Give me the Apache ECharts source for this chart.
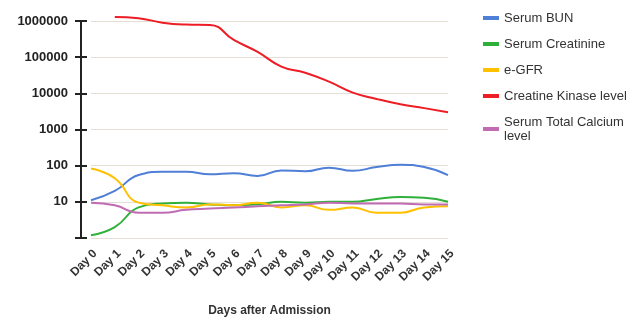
<!DOCTYPE html>
<html><head><meta charset="utf-8">
<script src="https://cdn.jsdelivr.net/npm/echarts@6/dist/echarts.min.js"></script>
<style>html,body{margin:0;padding:0;background:#fff}#c{width:644px;height:322px}</style>
</head><body><div id="c"></div>
<script>
const days = ['Day 0','Day 1','Day 2','Day 3','Day 4','Day 5','Day 6','Day 7','Day 8','Day 9','Day 10','Day 11','Day 12','Day 13','Day 14','Day 15'];
const serumBUN = [11, 20, 55, 68, 68, 58, 62, 52, 74, 70, 88, 72, 92, 106, 92, 55];
const serumCreatinine = [1.2, 2, 7, 9, 9.5, 8.5, 8, 8.5, 10, 9.5, 10, 10, 12, 13.5, 13, 10];
const eGFR = [84, 45, 9.5, 8, 7, 8.5, 8, 9.5, 7, 8, 6, 7, 5, 5, 7, 7.5];
const creatineKinase = [null, 1300000, 1200000, 900000, 800000, 780000, 300000, 140000, 55000, 37000, 21000, 10500, 7000, 5000, 3900, 3000];
const serumCalcium = [9.5, 8, 5, 5, 6, 6.5, 7, 7.5, 8, 8.5, 9.5, 9, 9, 9, 8.5, 8.5];
const yTicks = [10, 100, 1000, 10000, 100000, 1000000];

const names = ['Serum BUN','Serum Creatinine','e-GFR','Creatine Kinase level','Serum Total Calcium level'];
const colors = ['#4f7fd6','#2fb03a','#ffc000','#ee1c24','#c06cb4'];
const datas = [serumBUN, serumCreatinine, eGFR, creatineKinase, serumCalcium];

const chart = echarts.init(document.getElementById('c'), null, {renderer:'canvas'});
const font = 'Liberation Sans, Arial, sans-serif';
chart.setOption({
  animation: false,
  textStyle: {fontFamily: font},
  grid: {left: 91, right: 196, top: 21, height: 220},
  legend: {
    orient: 'vertical', left: 478, top: 6, itemGap: 12,
    itemWidth: 16, itemHeight: 4, icon: 'rect',
    textStyle: {fontSize: 13, color: '#333', fontFamily: font, lineHeight: 14},
    formatter: n => n === 'Serum Total Calcium level' ? 'Serum Total Calcium\nlevel' : n,
    data: names
  },
  xAxis: {
    type: 'category', data: days, boundaryGap: false,
    axisLine: {show: false}, axisTick: {show: false},
    axisLabel: {rotate: 45, fontSize: 12, color: '#333', fontWeight: 'bold', margin: 18, interval: 0,
      padding: [0, -6, 0, 0]},
    name: 'Days after Admission', nameLocation: 'middle', nameGap: 67,
    nameTextStyle: {fontSize: 12, fontWeight: 'bold', color: '#333'}
  },
  yAxis: [{
    type: 'log', logBase: 10, min: 1, max: 1000000, offset: 10,
    axisLine: {show: true, lineStyle: {color: '#222', width: 2}},
    axisTick: {show: true, length: 6, lineStyle: {color: '#222', width: 2}},
    axisLabel: {fontSize: 13, color: '#222', fontWeight: 'bold', margin: 13,
      formatter: v => yTicks.indexOf(Math.round(v)) >= 0 ? String(Math.round(v)) : ''},
    splitLine: {show: true, lineStyle: {color: '#e6ddd4', width: 1}}
  },{
    type: 'log', logBase: 10, min: 1, max: 1000000, position: 'left', offset: 10,
    axisLine: {show: false},
    axisTick: {show: true, inside: true, length: 6, lineStyle: {color: '#222', width: 2}},
    axisLabel: {show: false}, splitLine: {show: false}
  }],
  series: names.map((n, i) => ({
    name: n, type: 'line', data: datas[i], smooth: true, symbol: 'none',
    clip: false, connectNulls: false,
    lineStyle: {color: colors[i], width: 2}, itemStyle: {color: colors[i]}
  }))
});
</script></body></html>
